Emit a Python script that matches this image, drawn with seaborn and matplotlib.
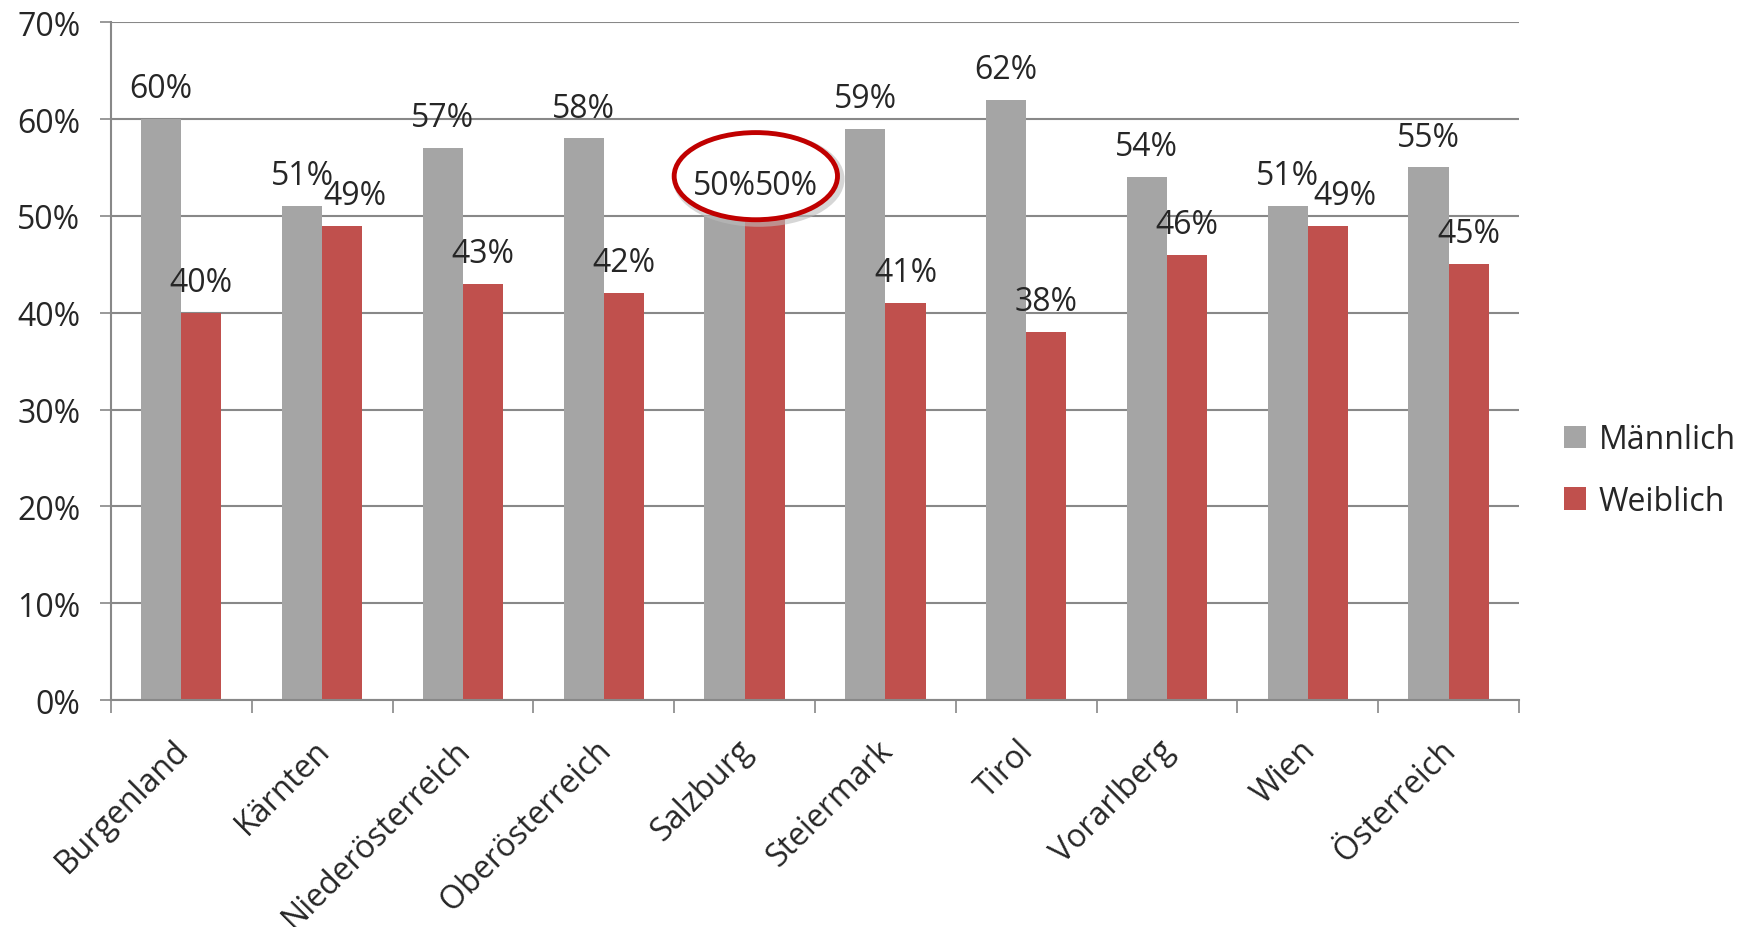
import pandas as pd
import matplotlib.pyplot as plt
import seaborn as sns
from matplotlib.patches import Ellipse
from matplotlib.transforms import ScaledTranslation

# data
regions = ['Burgenland', 'Kärnten', 'Niederösterreich', 'Oberösterreich', 'Salzburg',
           'Steiermark', 'Tirol', 'Vorarlberg', 'Wien', 'Österreich']
maennlich = [60, 51, 57, 58, 50, 59, 62, 54, 51, 55]
weiblich = [40, 49, 43, 42, 50, 41, 38, 46, 49, 45]
y_ticks = [0, 10, 20, 30, 40, 50, 60, 70]

df = pd.DataFrame({
    'region': regions * 2,
    'value': maennlich + weiblich,
    'sex': ['Männlich'] * len(regions) + ['Weiblich'] * len(regions),
})

sns.set_style('white')
plt.rcParams['font.family'] = ['Open Sans', 'DejaVu Sans']
FS = 23

fig = plt.figure(figsize=(17.5, 9.28), dpi=100)
ax = fig.add_axes([0.0634, 0.2446, 0.8046, 0.7304])

sns.barplot(data=df, x='region', y='value', hue='sex', ax=ax,
            palette=['#A5A5A5', '#C0504D'], width=0.57, saturation=1, linewidth=0)

# value labels; the Weiblich labels that collide were nudged right in the original
nudge = {'Kärnten': 9, 'Salzburg': 16, 'Wien': 12}
for k, c in enumerate(ax.containers):
    labels = ax.bar_label(c, fmt='%d%%', padding=10, fontsize=FS)
    for region, t in zip(regions, labels):
        t.set_zorder(10)
        if k == 1 and region in nudge:
            t.xyann = (nudge[region], 10)

# axes styling
ax.set_ylim(0, 70)
ax.set_xlim(-0.5, len(regions) - 0.5)
ax.set_yticks(y_ticks)
ax.set_yticklabels([f'{t}%' for t in y_ticks], fontsize=FS)
ax.yaxis.grid(True, color='#888888', linewidth=1.5)
ax.set_axisbelow(True)
ax.set_xlabel('')
ax.set_ylabel('')
for s in ['top', 'right']:
    ax.spines[s].set_visible(False)
for s in ['left', 'bottom']:
    ax.spines[s].set_color('#888888')
    ax.spines[s].set_linewidth(1.5)

ax.tick_params(axis='y', left=True, length=8, width=1.2, color='#888888', pad=14)
ax.set_xticks(range(len(regions)))
ax.set_xticklabels(regions, fontsize=FS, rotation=45, ha='right', rotation_mode='anchor')
ax.tick_params(axis='x', which='major', length=0, pad=24)
ax.set_xticks([i - 0.5 for i in range(len(regions) + 1)], minor=True)
ax.tick_params(axis='x', which='minor', bottom=True, length=9, width=1.2, color='#888888')
shift = ScaledTranslation(-0.09, 0, fig.dpi_scale_trans)
for lbl in ax.get_xticklabels():
    lbl.set_transform(lbl.get_transform() + shift)

# highlight Salzburg (soft shadow + white-filled red ring)
shadow = Ellipse((4.10, 53.8), 1.16, 9.0, fill=False, edgecolor='#BBBBBB', linewidth=6,
                 alpha=0.6, zorder=4, clip_on=False)
ax.add_patch(shadow)
ell = Ellipse((4.08, 54.1), 1.16, 9.0, facecolor='white', edgecolor='#C00000',
              linewidth=3.5, zorder=5, clip_on=False)
ax.add_patch(ell)

# legend
handles, labels = ax.get_legend_handles_labels()
ax.legend(handles, labels, loc='center left', bbox_to_anchor=(0.877, 0.492),
          bbox_transform=fig.transFigure, frameon=False, fontsize=FS,
          handlelength=0.7, handleheight=0.7, handletextpad=0.4, labelspacing=0.9)

fig.savefig('out.png', dpi=100)
